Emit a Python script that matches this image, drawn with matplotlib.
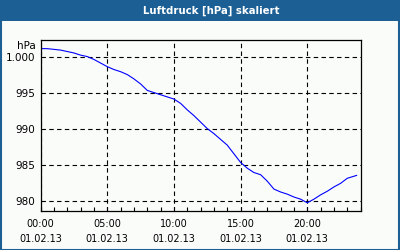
import matplotlib.pyplot as plt
from matplotlib.patches import Rectangle

# Luftdruck ueber einen Tag (Stunden ab 00:00)
hours = [0, 0.5, 1, 1.5, 2, 2.5, 3, 3.5, 4, 4.5, 5, 5.5, 6, 6.5, 7, 7.5, 8, 8.5,
         9, 9.5, 10, 10.5, 11, 11.5, 12, 12.5, 13, 13.5, 14, 14.5, 15, 15.5, 16,
         16.5, 17, 17.5, 18, 18.5, 19, 19.5, 20, 20.5, 21, 21.5, 22, 22.5, 23, 23.7]
pressure = [1001.2, 1001.2, 1001.1, 1001.0, 1000.8, 1000.6, 1000.3, 1000.1, 999.7, 999.2,
            998.7, 998.3, 998.0, 997.6, 997.0, 996.3, 995.4, 995.1, 994.8, 994.5,
            994.2, 993.6, 992.7, 991.9, 991.0, 990.1, 989.4, 988.6, 987.8, 986.6,
            985.4, 984.6, 984.0, 983.7, 982.8, 981.7, 981.3, 981.0, 980.6, 980.3,
            979.8, 980.3, 980.9, 981.4, 982.0, 982.5, 983.2, 983.6]

xticks = [0, 5, 10, 15, 20]
xticklabels = ['00:00\n01.02.13', '05:00\n01.02.13', '10:00\n01.02.13',
               '15:00\n01.02.13', '20:00\n01.02.13']
yticks = [980, 985, 990, 995, 1000]
yticklabels = ['980', '985', '990', '995', '1.000']

frame = '#1b5f95'
bg = '#fafcfa'

fig = plt.figure(figsize=(4, 2.5), dpi=100, facecolor=bg)

# Kopfzeile und Rahmen
fig.patches.append(Rectangle((0, 1 - 20.5 / 250), 1, 20.5 / 250, transform=fig.transFigure,
                             facecolor=frame, edgecolor='none', zorder=0))
fig.patches.append(Rectangle((0.5 / 400, 0.5 / 250), 1 - 1.5 / 400, 1 - 1.5 / 250,
                             transform=fig.transFigure, facecolor='none',
                             edgecolor=frame, lw=1.5, zorder=5))
fig.text(211 / 400, 1 - 10.5 / 250, 'Luftdruck [hPa] skaliert', color='white',
         fontsize=7.3, fontweight='bold', ha='center', va='center')

ax = fig.add_axes([40.6 / 400, 39.3 / 250, 320 / 400, 170.7 / 250])
ax.set_facecolor(bg)

ax.plot(hours, pressure, '-', color='#0000ff', lw=0.8)

ax.set_xlim(0, 24)
ax.set_ylim(978.7, 1002.4)

ax.set_xticks(xticks)
ax.set_xticklabels(xticklabels, fontsize=7, linespacing=1.6)
ax.set_xticks(range(25), minor=True)
ax.set_yticks(yticks)
ax.set_yticklabels(yticklabels, fontsize=7.5)

ax.tick_params(axis='x', which='both', direction='in', length=3, width=0.8, pad=6)
ax.tick_params(axis='y', length=0, pad=4)

ax.grid(True, color='black', lw=0.8, linestyle=(0, (4, 3)))
for s in ax.spines.values():
    s.set_linewidth(0.9)

fig.text(36 / 400, 1 - 46 / 250, 'hPa', fontsize=7.5, ha='right', va='center')

plt.savefig('out.png', dpi=100, facecolor=bg)
